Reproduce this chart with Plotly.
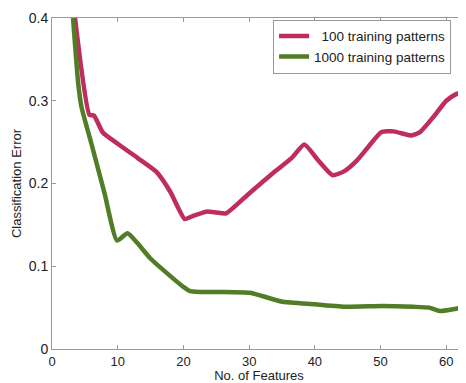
import plotly.graph_objects as go

features_100 = [3.5, 5.7, 6.4, 7.7, 10, 13, 15.9, 18, 20.2, 21.5, 23.5, 25, 26.5, 30, 34, 36.5, 38.4, 40.5, 42.7, 44.5, 46.3, 48, 50.1, 52, 54.7, 56, 58, 60, 61.5, 63]
error_100 = [0.4, 0.283, 0.282, 0.262, 0.248, 0.231, 0.214, 0.190, 0.157, 0.161, 0.166, 0.165, 0.164, 0.188, 0.215, 0.231, 0.247, 0.228, 0.210, 0.215, 0.227, 0.243, 0.262, 0.263, 0.258, 0.262, 0.28, 0.300, 0.308, 0.312]

features_1000 = [3.2, 4.0, 4.5, 6, 8, 9.9, 11.5, 13, 14.9, 17, 20, 21, 22.5, 26, 30.1, 32, 35.1, 40, 44.8, 50.3, 55, 57.4, 59, 61, 63]
error_1000 = [0.4, 0.32, 0.292, 0.248, 0.188, 0.131, 0.140, 0.128, 0.110, 0.095, 0.075, 0.070, 0.069, 0.069, 0.068, 0.064, 0.057, 0.054, 0.051, 0.052, 0.051, 0.050, 0.046, 0.048, 0.051]

x_ticks = [0, 10, 20, 30, 40, 50, 60]
y_ticks = [0, 0.1, 0.2, 0.3, 0.4]
y_tick_labels = ["0", "0.1", "0.2", "0.3", "0.4"]

red = "rgb(190,45,92)"
green = "rgb(80,125,38)"

fig = go.Figure()
# faint underlying raw curves
for xs, ys in [(features_100, error_100), (features_1000, error_1000)]:
    fig.add_trace(go.Scatter(x=xs, y=ys, mode="lines", showlegend=False,
                             line=dict(color="rgba(150,150,150,0.6)", width=1)))
fig.add_trace(go.Scatter(x=features_100, y=error_100, mode="lines",
                         name="  100 training patterns",
                         line=dict(color=red, width=4.5, shape="spline", smoothing=0.5)))
fig.add_trace(go.Scatter(x=features_1000, y=error_1000, mode="lines",
                         name="1000 training patterns",
                         line=dict(color=green, width=4.5, shape="spline", smoothing=0.5)))

font_family = "Liberation Sans, Arial, Helvetica, sans-serif"
fig.update_layout(
    width=458, height=375,
    margin=dict(l=44, r=0, t=10, b=34, autoexpand=False),
    paper_bgcolor="white", plot_bgcolor="white",
    font=dict(family=font_family, size=13, color="#222"),
    legend=dict(x=0.534, y=0.995, xanchor="left", yanchor="top",
                bordercolor="#999", borderwidth=1, bgcolor="white",
                font=dict(size=13.5), tracegroupgap=0),
    xaxis=dict(range=[0, 63], tickvals=x_ticks, showgrid=False, zeroline=False,
               showline=True, linecolor="#999", linewidth=1, mirror="ticks",
               ticks="inside", ticklen=4, tickcolor="#999",
               tickfont=dict(size=13),
               title=dict(text="No. of Features", font=dict(size=13), standoff=2)),
    yaxis=dict(range=[0, 0.4], tickvals=y_ticks, ticktext=y_tick_labels,
               showgrid=False, zeroline=False,
               showline=True, linecolor="#999", linewidth=1,
               ticks="inside", ticklen=4, tickcolor="#999",
               tickfont=dict(size=14),
               title=dict(text="Classification Error", font=dict(size=13), standoff=4)),
)

fig.write_html("out.html")
